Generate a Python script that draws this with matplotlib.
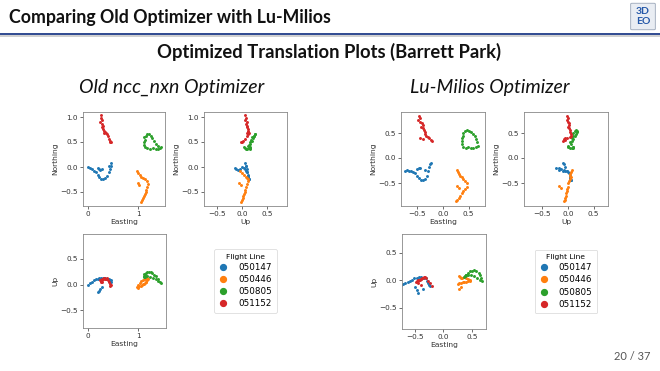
import matplotlib
matplotlib.use("Agg")
import matplotlib.pyplot as plt
from matplotlib.patches import FancyBboxPatch
from matplotlib.lines import Line2D

W, H = 660, 371

flight_lines = ["050147", "050446", "050805", "051152"]
colors = ["#1f77b4", "#ff7f0e", "#2ca02c", "#d62728"]

# ---- Old ncc_nxn optimizer (Easting, Northing, Up) ----
old_E = {
    "050147": [0.00, 0.04, 0.08, 0.12, 0.16, 0.19, 0.22, 0.26, 0.30, 0.34, 0.38, 0.41, 0.44, 0.46, 0.45, 0.42, 0.27, 0.24, 0.21, 0.19],
    "050446": [0.98, 1.00, 1.03, 1.06, 1.10, 1.14, 1.17, 1.19, 1.00, 1.02, 1.18, 1.16, 1.15, 1.13, 1.11, 1.09, 1.07, 1.06],
    "050805": [1.12, 1.15, 1.18, 1.22, 1.25, 1.28, 1.32, 1.36, 1.40, 1.43, 1.40, 1.35, 1.30, 1.24, 1.18, 1.13, 1.11, 1.12, 1.13, 1.46],
    "051152": [0.26, 0.25, 0.27, 0.24, 0.28, 0.29, 0.27, 0.30, 0.32, 0.35, 0.38, 0.40, 0.41, 0.44, 0.46, 0.43, 0.33, 0.31],
}
old_N = {
    "050147": [0.00, -0.02, -0.04, -0.07, -0.10, -0.15, -0.20, -0.23, -0.24, -0.22, -0.17, -0.10, -0.03, 0.03, 0.08, 0.02, -0.04, -0.05, -0.03, -0.01],
    "050446": [-0.08, -0.12, -0.16, -0.19, -0.21, -0.24, -0.28, -0.33, -0.31, -0.35, -0.40, -0.45, -0.50, -0.54, -0.58, -0.62, -0.66, -0.69],
    "050805": [0.60, 0.63, 0.66, 0.66, 0.63, 0.58, 0.52, 0.47, 0.42, 0.38, 0.37, 0.37, 0.38, 0.37, 0.38, 0.40, 0.45, 0.50, 0.55, 0.40],
    "051152": [1.04, 0.98, 0.94, 0.90, 0.87, 0.83, 0.80, 0.76, 0.72, 0.69, 0.67, 0.63, 0.56, 0.53, 0.51, 0.50, 0.70, 0.68],
}
old_U = {
    "050147": [0.00, 0.03, 0.06, 0.08, 0.10, 0.11, 0.12, 0.13, 0.13, 0.12, 0.11, 0.10, 0.09, 0.08, 0.06, 0.07, -0.04, -0.08, -0.12, -0.15],
    "050446": [-0.04, 0.00, 0.04, 0.07, 0.09, 0.11, 0.12, 0.10, -0.06, -0.03, 0.08, 0.06, 0.05, 0.03, 0.02, 0.01, 0.00, -0.02],
    "050805": [0.20, 0.23, 0.25, 0.25, 0.24, 0.22, 0.19, 0.16, 0.11, 0.06, 0.07, 0.10, 0.13, 0.15, 0.16, 0.15, 0.14, 0.16, 0.18, 0.03],
    "051152": [0.05, 0.07, 0.06, 0.09, 0.08, 0.10, 0.10, 0.11, 0.12, 0.10, 0.12, 0.09, 0.05, 0.02, 0.00, -0.02, 0.11, 0.13],
}

# ---- Lu-Milios optimizer (Easting, Northing, Up) ----
lm_E = {
    "050147": [-0.75, -0.71, -0.67, -0.63, -0.59, -0.55, -0.51, -0.47, -0.43, -0.39, -0.35, -0.31, -0.29, -0.27, -0.25, -0.23, -0.50, -0.47, -0.44, -0.36],
    "050446": [0.27, 0.29, 0.31, 0.33, 0.37, 0.40, 0.43, 0.46, 0.28, 0.31, 0.46, 0.43, 0.40, 0.37, 0.34, 0.31, 0.28, 0.25],
    "050805": [0.40, 0.43, 0.47, 0.50, 0.54, 0.58, 0.62, 0.65, 0.67, 0.68, 0.64, 0.59, 0.54, 0.49, 0.44, 0.39, 0.37, 0.38, 0.38, 0.39],
    "051152": [-0.47, -0.44, -0.48, -0.45, -0.41, -0.39, -0.43, -0.40, -0.38, -0.36, -0.35, -0.33, -0.30, -0.27, -0.24, -0.21, -0.40, -0.44],
}
lm_N = {
    "050147": [-0.25, -0.24, -0.26, -0.25, -0.27, -0.30, -0.35, -0.40, -0.43, -0.44, -0.42, -0.36, -0.25, -0.17, -0.12, -0.10, -0.21, -0.20, -0.19, -0.24],
    "050446": [-0.24, -0.28, -0.32, -0.36, -0.38, -0.42, -0.46, -0.50, -0.55, -0.60, -0.57, -0.62, -0.66, -0.70, -0.75, -0.79, -0.83, -0.86],
    "050805": [0.50, 0.54, 0.56, 0.55, 0.52, 0.48, 0.44, 0.38, 0.32, 0.25, 0.22, 0.21, 0.21, 0.22, 0.21, 0.23, 0.28, 0.34, 0.40, 0.45],
    "051152": [0.84, 0.80, 0.76, 0.72, 0.70, 0.66, 0.63, 0.60, 0.56, 0.52, 0.48, 0.44, 0.42, 0.40, 0.37, 0.34, 0.38, 0.40],
}
lm_U = {
    "050147": [-0.09, -0.07, -0.05, -0.03, -0.01, 0.01, 0.03, 0.04, 0.05, 0.05, 0.04, 0.03, -0.02, -0.05, -0.08, -0.10, -0.13, -0.18, -0.23, -0.17],
    "050446": [0.08, 0.06, 0.04, 0.03, 0.05, 0.03, 0.02, 0.00, -0.17, -0.13, -0.01, -0.02, -0.03, -0.04, -0.04, -0.05, -0.06, -0.07],
    "050805": [0.10, 0.13, 0.16, 0.17, 0.18, 0.16, 0.13, 0.09, 0.04, -0.01, 0.00, 0.04, 0.07, 0.09, 0.10, 0.09, 0.06, 0.07, 0.08, 0.09],
    "051152": [-0.02, 0.00, -0.03, -0.01, 0.01, 0.02, 0.00, 0.02, 0.03, 0.04, 0.05, 0.06, 0.03, -0.02, -0.06, -0.10, -0.08, -0.05],
}

slide_title = "Comparing Old Optimizer with Lu-Milios"
subtitle = "Optimized Translation Plots (Barrett Park)"
group_titles = ["Old ncc_nxn Optimizer", "Lu-Milios Optimizer"]
page_label = "20 / 37"

fig = plt.figure(figsize=(W / 100, H / 100), dpi=100)
fig.patch.set_facecolor("white")

def px_axes(x0, y0, x1, y1):
    return fig.add_axes([x0 / W, 1 - y1 / H, (x1 - x0) / W, (y1 - y0) / H])

FAM = ["Lato", "DejaVu Sans"]

# header
fig.text(9 / W, 1 - 18 / H, slide_title, fontsize=12.8, fontweight="bold",
         family=FAM, color="#111111", va="center", ha="left")
fig.add_artist(Line2D([0, 1], [1 - 35.5 / H, 1 - 35.5 / H], color="#c8c8c8", lw=1.2, transform=fig.transFigure))
fig.add_artist(Line2D([0, 1], [1 - 33.5 / H, 1 - 33.5 / H], color="#1f3c88", lw=1.3, transform=fig.transFigure))
logo = FancyBboxPatch((632 / W, 1 - 29 / H), 22 / W, 25 / H,
                      boxstyle="round,pad=0.002", transform=fig.transFigure,
                      facecolor="#e9edf3", edgecolor="#9aa6b8", lw=0.6)
fig.add_artist(logo)
fig.text(643 / W, 1 - 11 / H, "3D", fontsize=7.5, fontweight="bold", color="#2457a8",
         ha="center", va="center", family=FAM)
fig.text(643 / W, 1 - 22 / H, "EO", fontsize=7.5, fontweight="bold", color="#2457a8",
         ha="center", va="center", family=FAM)

fig.text(329 / W, 1 - 52 / H, subtitle, fontsize=13.2, fontweight="bold",
         family=FAM, color="#111111", ha="center", va="center")
fig.text(172 / W, 1 - 87 / H, group_titles[0], fontsize=14, style="italic",
         family=FAM, color="#111111", ha="center", va="center")
fig.text(490 / W, 1 - 87 / H, group_titles[1], fontsize=14, style="italic",
         family=FAM, color="#111111", ha="center", va="center")
fig.text(651 / W, 1 - 356 / H, page_label, fontsize=8, color="#555555",
         family=FAM, ha="right", va="center")

TICK_FS = 5.2
LAB_FS = 5.4
MS = 4.5

def style(ax, xlabel, ylabel, xlim, ylim, xticks, yticks):
    ax.set_xlim(*xlim)
    ax.set_ylim(*ylim)
    ax.set_xticks(xticks)
    ax.set_yticks(yticks)
    ax.tick_params(labelsize=TICK_FS, length=2, width=0.5, pad=1.5, colors="#333333")
    ax.set_xlabel(xlabel, fontsize=LAB_FS, labelpad=1.5, color="#333333")
    ax.set_ylabel(ylabel, fontsize=LAB_FS, labelpad=1.5, color="#333333")
    for s in ax.spines.values():
        s.set_color("#888888")
        s.set_linewidth(0.6)

def draw_group(E, N, U, boxes, lims, ticks):
    (b1, b2, b3, b4) = boxes
    ax1 = px_axes(*b1)
    ax2 = px_axes(*b2)
    ax3 = px_axes(*b3)
    for fl, c in zip(flight_lines, colors):
        ax1.scatter(E[fl], N[fl], s=MS, color=c, lw=0)
        ax2.scatter(U[fl], N[fl], s=MS, color=c, lw=0)
        ax3.scatter(E[fl], U[fl], s=MS, color=c, lw=0)
    style(ax1, "Easting", "Northing", lims[0][0], lims[0][1], ticks[0][0], ticks[0][1])
    style(ax2, "Up", "Northing", lims[1][0], lims[1][1], ticks[1][0], ticks[1][1])
    style(ax3, "Easting", "Up", lims[2][0], lims[2][1], ticks[2][0], ticks[2][1])
    axl = px_axes(*b4)
    axl.axis("off")
    handles = [Line2D([], [], ls="", marker="o", ms=4.2, color=c) for c in colors]
    leg = axl.legend(handles, flight_lines, title="Flight Line", loc="center",
                     fontsize=6.3, title_fontsize=5.4, frameon=True,
                     handletextpad=1.2, borderpad=0.55, labelspacing=0.35, handlelength=1.0)
    leg.get_frame().set_linewidth(0.5)
    leg.get_frame().set_edgecolor("#cccccc")

draw_group(old_E, old_N, old_U,
           [(83, 112, 165, 206), (204, 112, 287, 206), (83, 234, 166, 328), (204, 234, 287, 328)],
           [((-0.1, 1.54), (-0.78, 1.1)), ((-0.76, 0.9), (-0.78, 1.1)), ((-0.1, 1.56), (-0.84, 0.98))],
           [([0, 1], [-0.5, 0.0, 0.5, 1.0]), ([-0.5, 0.0, 0.5], [-0.5, 0.0, 0.5, 1.0]), ([0, 1], [-0.5, 0.0, 0.5])])

draw_group(lm_E, lm_N, lm_U,
           [(401, 112, 485, 206), (524, 112, 608, 206), (402, 234, 486, 329), (524, 234, 608, 329)],
           [((-0.82, 0.82), (-0.96, 0.92)), ((-0.86, 0.78), (-0.96, 0.92)), ((-0.73, 0.75), (-0.89, 0.84))],
           [([-0.5, 0.0, 0.5], [-0.5, 0.0, 0.5]), ([-0.5, 0.0, 0.5], [-0.5, 0.0, 0.5]), ([-0.5, 0.0, 0.5], [-0.5, 0.0, 0.5])])

fig.savefig("out.png", dpi=100)
